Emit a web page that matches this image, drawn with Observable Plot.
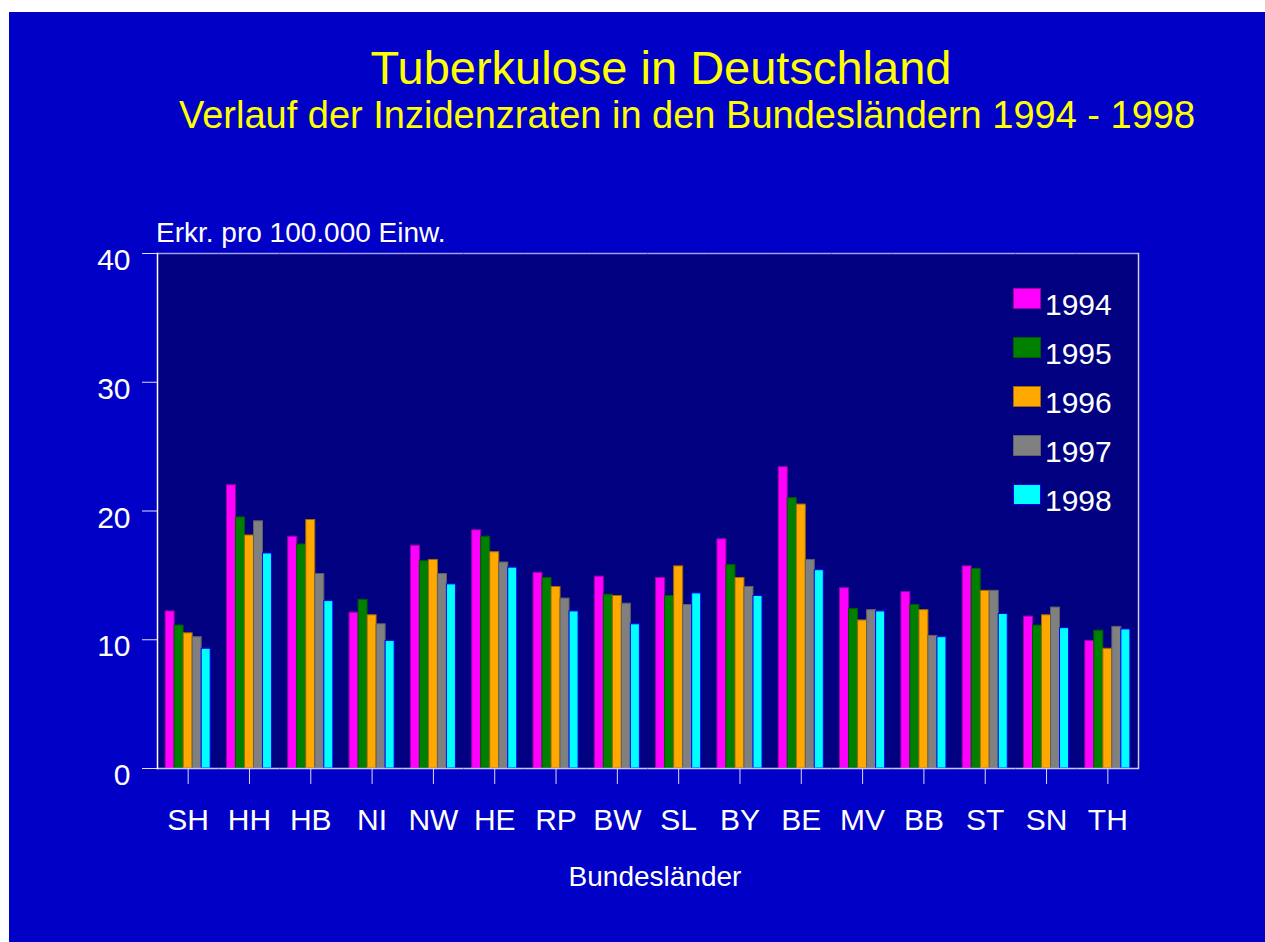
<!DOCTYPE html>
<html>
<head>
<meta charset="utf-8">
<script src="https://cdn.jsdelivr.net/npm/d3@7"></script>
<script src="https://cdn.jsdelivr.net/npm/@observablehq/plot@0.6"></script>
<style>
  html, body { margin: 0; padding: 0; background: #ffffff; }
  body { font-family: "Liberation Sans", Arial, sans-serif; }
  #wrap { position: relative; width: 1265px; height: 942px; overflow: hidden; }
  #bg { position: absolute; left: 9px; top: 12px; right: 0; bottom: 0; background: #0000c6; }
  #chart { position: absolute; left: 0; top: 0; }
  .txt { position: absolute; white-space: nowrap; line-height: 1; }
  #title { left: 661px; top: 44px; transform: translateX(-50%); font-size: 47px; color: #ffff00; }
  #subtitle { left: 687px; top: 96px; transform: translateX(-50%); font-size: 38px; color: #ffff00; }
  #ylabel { left: 156px; top: 219px; font-size: 28px; color: #ffffff; }
  #xlabel { left: 655px; top: 863px; transform: translateX(-50%); font-size: 28px; color: #ffffff; }
  #legend { position: absolute; left: 1013px; top: 274px; }
  .row { display: flex; align-items: center; height: 49px; }
  .sw { width: 26px; height: 19px; border: 1px solid; margin-right: 4px; }
  .lt { font-size: 30px; line-height: 30px; color: #ffffff; position: relative; top: 6px; }
</style>
</head>
<body>
<div id="wrap">
  <div id="bg"></div>
  <div id="chart"></div>
  <div class="txt" id="title">Tuberkulose in Deutschland</div>
  <div class="txt" id="subtitle">Verlauf der Inzidenzraten in den Bundesländern 1994 - 1998</div>
  <div class="txt" id="ylabel">Erkr. pro 100.000 Einw.</div>
  <div class="txt" id="xlabel">Bundesländer</div>
  <div id="legend"></div>
</div>
<script>
// ---- data ----
const states = ["SH","HH","HB","NI","NW","HE","RP","BW","SL","BY","BE","MV","BB","ST","SN","TH"];
const years = ["1994","1995","1996","1997","1998"];
const v1994 = [12.2, 22.0, 18.0, 12.1, 17.3, 18.5, 15.2, 14.9, 14.8, 17.8, 23.4, 14.0, 13.7, 15.7, 11.8, 9.9];
const v1995 = [11.1, 19.5, 17.4, 13.1, 16.1, 18.0, 14.8, 13.5, 13.4, 15.8, 21.0, 12.4, 12.7, 15.5, 11.1, 10.7];
const v1996 = [10.5, 18.1, 19.3, 11.9, 16.2, 16.8, 14.1, 13.4, 15.7, 14.8, 20.5, 11.5, 12.3, 13.8, 11.9, 9.3];
const v1997 = [10.2, 19.2, 15.1, 11.2, 15.1, 16.0, 13.2, 12.8, 12.7, 14.1, 16.2, 12.3, 10.3, 13.8, 12.5, 11.0];
const v1998 = [9.3, 16.7, 13.0, 9.9, 14.3, 15.6, 12.2, 11.2, 13.6, 13.4, 15.4, 12.2, 10.2, 12.0, 10.9, 10.8];
const yTicks = [0, 10, 20, 30, 40];
const fills = ["#ff00ff", "#008000", "#ffa800", "#808080", "#00ffff"];
const strokes = ["#a000a0", "#005a00", "#a06a00", "#606060", "#0000ff"];

const series = [v1994, v1995, v1996, v1997, v1998];
const rows = [];
states.forEach((s, i) => {
  years.forEach((y, j) => rows.push({state: s, year: y, value: series[j][i]}));
});
const fillOf = Object.fromEntries(years.map((y, j) => [y, fills[j]]));
const strokeOf = Object.fromEntries(years.map((y, j) => [y, strokes[j]]));

const chart = Plot.plot({
  width: 1265,
  height: 942,
  marginLeft: 157,
  marginRight: 127,
  marginTop: 253,
  marginBottom: 174,
  facet: {marginTop: 0, marginRight: 0, marginBottom: 0, marginLeft: 0},
  style: {background: "transparent", fontFamily: "'Liberation Sans', Arial, sans-serif", color: "#ffffff"},
  fx: {domain: states, paddingInner: 0, paddingOuter: 0, round: false, axis: null},
  x: {domain: years, paddingInner: 0, paddingOuter: 0.9, round: false, axis: null},
  y: {domain: [0, 40], axis: null},
  color: {type: "identity"},
  marks: [
    Plot.frame({fill: "#000080", stroke: "#000080", strokeWidth: 1}),
    Plot.barY(rows, {
      fx: "state", x: "year", y: "value",
      fill: d => fillOf[d.year], stroke: d => strokeOf[d.year], strokeWidth: 1,
      insetLeft: 0, insetRight: 0
    }),
    Plot.ruleY([0], {stroke: "#c8c8ff", strokeWidth: 1.5}),
    Plot.ruleY([40], {stroke: "#a0a0f0", strokeWidth: 1.5}),
    Plot.frame({anchor: "left", stroke: "#ffffff", strokeWidth: 1.5, facetAnchor: "left"}),
    Plot.frame({anchor: "right", stroke: "#d0d0d8", strokeWidth: 1.5, facetAnchor: "right"}),
    Plot.axisY({ticks: yTicks, tickSize: 15, tickFormat: () => "", label: null, stroke: "#e0e0ff"}),
    Plot.axisY({ticks: yTicks, tickSize: 0, tickPadding: 27, fontSize: 30, dy: 7, label: null, fill: "#ffffff"}),
    Plot.axisFx({anchor: "bottom", tickSize: 16, tickPadding: 24, fontSize: 30, label: null, stroke: "#d8d8ff", fill: "#ffffff"})
  ]
});
document.getElementById("chart").appendChild(chart);

// legend
const leg = document.getElementById("legend");
years.forEach((y, j) => {
  const r = document.createElement("div");
  r.className = "row";
  const sw = document.createElement("div");
  sw.className = "sw";
  sw.style.background = fills[j];
  sw.style.borderColor = strokes[j];
  const t = document.createElement("span");
  t.className = "lt";
  t.textContent = y;
  r.appendChild(sw); r.appendChild(t);
  leg.appendChild(r);
});
</script>
</body>
</html>
